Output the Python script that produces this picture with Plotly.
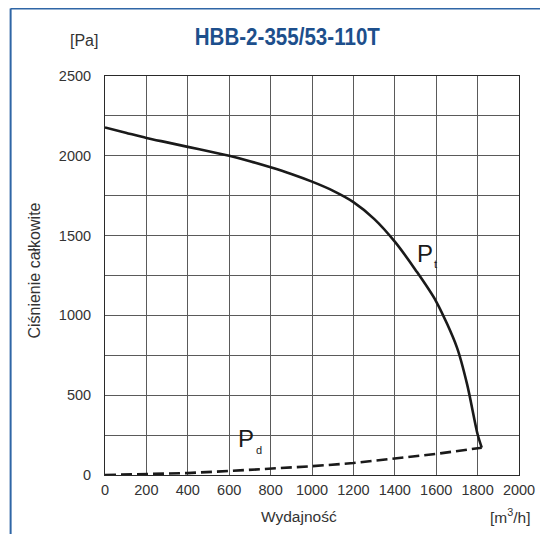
import plotly.graph_objects as go

# Data
flow_pt = [0, 100, 200, 300, 400, 500, 600, 700, 800, 900, 1000, 1100, 1200, 1300, 1400,
           1500, 1600, 1700, 1750, 1800, 1820]
pt = [2178, 2145, 2112, 2084, 2056, 2029, 2000, 1966, 1928, 1886, 1838, 1782, 1710, 1605, 1462,
      1285, 1087, 800, 565, 255, 171]
flow_pd = [0, 200, 400, 600, 800, 1000, 1200, 1400, 1600, 1820]
pd_vals = [0, 5, 12, 25, 38, 55, 75, 102, 132, 171]

x_ticks = list(range(0, 2001, 200))
y_ticks = list(range(0, 2501, 500))
title = "HBB-2-355/53-110T"

FONT = "Liberation Sans, Arial, Helvetica, sans-serif"
TXT = "#333333"

fig = go.Figure()
fig.add_trace(go.Scatter(x=flow_pt, y=pt, mode="lines",
                         line=dict(color="#1a1a1a", width=2.6, shape="spline", smoothing=0.8),
                         hoverinfo="skip", showlegend=False))
fig.add_trace(go.Scatter(x=flow_pd, y=pd_vals, mode="lines",
                         line=dict(color="#1a1a1a", width=2.6, dash="11px,5px"),
                         hoverinfo="skip", showlegend=False))

# plot area in figure pixels (figure is offset by the 8px page margin)
L, R, T, B = 96.5, 511.0, 68.0, 467.0
W, H = 540, 526
fig.update_layout(
    width=W, height=H,
    margin=dict(l=L, r=W - R, t=T, b=H - B, pad=0),
    paper_bgcolor="white", plot_bgcolor="white",
    font=dict(family=FONT, size=14.5, color=TXT),
    xaxis=dict(range=[0, 2000], tickvals=x_ticks, ticktext=[str(v) for v in x_ticks],
               showgrid=True, gridcolor="#5a5a5a", gridwidth=1,
               showline=True, linecolor="#2a2a2a", linewidth=1, mirror=True,
               zeroline=False, ticks="", ticklabelstandoff=2, fixedrange=True),
    yaxis=dict(range=[0, 2500], tickvals=y_ticks, ticktext=[str(v) for v in y_ticks],
               showgrid=True, gridcolor="#5a5a5a", gridwidth=1,
               showline=True, linecolor="#2a2a2a", linewidth=1, mirror=True,
               zeroline=False, ticks="", ticklabelstandoff=10, fixedrange=True),
)
fig.update_yaxes(minor=dict(tickvals=list(range(250, 2500, 500)), showgrid=True,
                            gridcolor="#5a5a5a", gridwidth=1, ticks=""))


def px_x(px):
    return (px - 8 - L) / (R - L)


def px_y(py):
    return (B - (py - 8)) / (B - T)


ann = [
    ("<b>" + title + "</b>", 287, 36, dict(size=24.5, color="#1d4f8c", family=FONT)),
    ("[Pa]", 83, 41, dict(size=16, color=TXT)),
    ("Wydajność", 299, 516, dict(size=15.5, color=TXT)),
    ("[m<sup>3</sup>/h]", 510, 516, dict(size=15.5, color=TXT)),
]
for text, x, y, f in ann:
    fig.add_annotation(text=text, xref="paper", yref="paper", x=px_x(x), y=px_y(y),
                       showarrow=False, font=f, xanchor="center", yanchor="middle")

fig.add_annotation(text="Ciśnienie całkowite", xref="paper", yref="paper",
                   x=px_x(33), y=px_y(271), textangle=-90,
                   showarrow=False, font=dict(size=16, color=TXT),
                   xanchor="center", yanchor="middle")

# curve labels
for text, q, p, s in [("P", 1544, 1391, 24), ("t", 1595, 1322, 11),
                      ("P", 680, 226, 24), ("d", 744, 157, 11)]:
    fig.add_annotation(text=text, x=q, y=p, showarrow=False,
                       font=dict(size=s, color="#1a1a1a"), xanchor="center", yanchor="middle")

# blue frame lines (top and left)
fx = px_x(10)
fy = px_y(8.5)
fig.add_shape(type="line", xref="paper", yref="paper", x0=fx, y0=fy, x1=px_x(560), y1=fy,
              line=dict(color="#2f66a6", width=2))
fig.add_shape(type="line", xref="paper", yref="paper", x0=fx, y0=fy, x1=fx, y1=px_y(560),
              line=dict(color="#2f66a6", width=2))

post = """
function squeezeTitle(){
  document.querySelectorAll('text.annotation-text').forEach(function(t){
    if (t.textContent === 'HBB-2-355/53-110T') {
      t.style.transformBox = 'fill-box';
      t.style.transformOrigin = 'center';
      t.style.transform = 'scaleX(0.84)';
    }
  });
}
squeezeTitle();
setTimeout(squeezeTitle, 0);
var gdq = document.getElementById('{plot_id}');
if (gdq && gdq.on) { gdq.on('plotly_afterplot', squeezeTitle); }
"""

fig.write_html("out.html", post_script=post)
